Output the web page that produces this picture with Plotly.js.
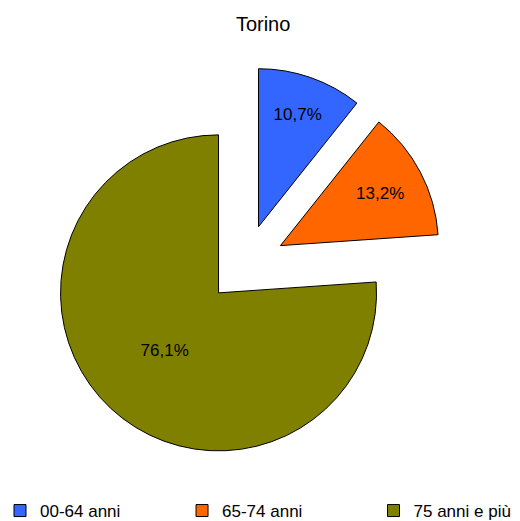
<!DOCTYPE html>
<html>
<head>
<meta charset="utf-8">
<script src="https://cdn.plot.ly/plotly-3.0.1.min.js"></script>
<style>html,body{margin:0;padding:0;background:#fff}#chart{width:520px;height:521px}</style>
</head>
<body>
<div id="chart"></div>
<script>
const categories = ['00-64 anni', '65-74 anni', '75 anni e più'];
const values = [10.7, 13.2, 76.1];
const colors = ['#3366FF', '#FF6600', '#808000'];
const labelsText = values.map(v => v.toFixed(1).replace('.', ',') + '%');
const chartTitle = 'Torino';

// legend spacing: pad entries with non-breaking spaces so they spread across the bottom
const legendPad = [12, 14, 0];
const legendLabels = categories.map((c, i) => c + '\u00a0'.repeat(legendPad[i]));

const trace = {
  type: 'pie',
  labels: legendLabels,
  values: values,
  text: labelsText,
  textinfo: 'text',
  textposition: 'inside',
  insidetextorientation: 'horizontal',
  textfont: {family: 'Liberation Sans, Arial, sans-serif', size: 17, color: '#000000'},
  sort: false,
  direction: 'clockwise',
  rotation: 0,
  pull: [0.25, 0.25, 0.25],
  marker: {colors: colors, line: {color: '#000000', width: 1}},
  domain: {x: [0.0923, 0.8519], y: [0.1142, 0.8724]},
  hoverinfo: 'text'
};

const layout = {
  width: 520, height: 521,
  margin: {l: 0, r: 0, t: 0, b: 0, autoexpand: false},
  paper_bgcolor: '#ffffff',
  plot_bgcolor: '#ffffff',
  font: {family: 'Liberation Sans, Arial, sans-serif', size: 17, color: '#000000'},
  title: {text: chartTitle, font: {size: 20, color: '#000000'}, x: 0.506, xanchor: 'center', y: 1 - 24/521, yanchor: 'middle', yref: 'container'},
  showlegend: true,
  legend: {orientation: 'h', x: 0.0, xanchor: 'left', y: 1 - 511/521, yanchor: 'middle', traceorder: 'normal', font: {size: 17}}
};

Plotly.newPlot('chart', [trace], layout, {displayModeBar: false, staticPlot: true});
</script>
</body>
</html>
